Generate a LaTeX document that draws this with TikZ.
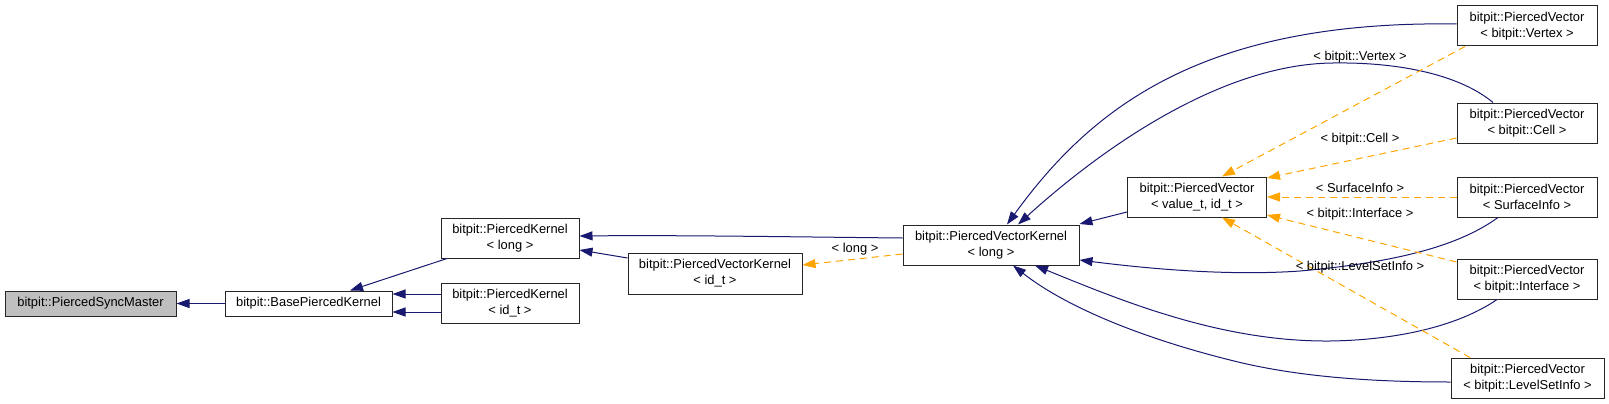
\documentclass[tikz,border=0pt]{standalone}
\usepackage{fontspec}
\setmainfont{Liberation Sans}
\usetikzlibrary{arrows.meta,calc}
\definecolor{edgeblue}{HTML}{191970}
\definecolor{edgeorange}{HTML}{FFA500}
\definecolor{mastergray}{HTML}{BFBFBF}
\tikzset{
  cls/.style={draw=black!85, line width=1pt, fill=white, inner sep=0pt, align=center,
    font=\fontsize{12.9}{16}\selectfont, text=black},
  inherit/.style={draw=edgeblue, line width=1pt, -{Triangle[length=13pt,width=9pt]}},
  tmpl/.style={draw=edgeorange, line width=1pt, dash pattern=on 7pt off 5pt,
    -{Triangle[length=13pt,width=9pt]}},
  lbl/.style={font=\fontsize{12.9}{16}\selectfont, inner sep=0pt, text=black},
}
\begin{document}
\begin{tikzpicture}[x=1pt,y=-1pt]
\path[use as bounding box] (0,0) rectangle (1609,404);
% nodes
\node[cls, fill=mastergray, minimum width=171pt, minimum height=25pt] (psm) at (90.5,303.5) {bitpit::PiercedSyncMaster};
\node[cls, minimum width=167pt, minimum height=25pt] (bpk) at (308.5,303.5) {bitpit::BasePiercedKernel};
\node[cls, minimum width=138pt, minimum height=40pt] (pkl) at (510,238) {bitpit::PiercedKernel\\< long >};
\node[cls, minimum width=138pt, minimum height=40pt] (pki) at (510,303) {bitpit::PiercedKernel\\< id\_t >};
\node[cls, minimum width=174pt, minimum height=41pt] (pvki) at (715,273.5) {bitpit::PiercedVectorKernel\\< id\_t >};
\node[cls, minimum width=176pt, minimum height=40pt] (pvkl) at (991,245) {bitpit::PiercedVectorKernel\\< long >};
\node[cls, minimum width=139pt, minimum height=40pt] (pv) at (1197,197) {bitpit::PiercedVector\\< value\_t, id\_t >};
\node[cls, minimum width=140pt, minimum height=40pt] (pvv) at (1527,26) {bitpit::PiercedVector\\< bitpit::Vertex >};
\node[cls, minimum width=140pt, minimum height=40pt] (pvc) at (1527,123) {bitpit::PiercedVector\\< bitpit::Cell >};
\node[cls, minimum width=140pt, minimum height=40pt] (pvs) at (1527,197) {bitpit::PiercedVector\\< SurfaceInfo >};
\node[cls, minimum width=140pt, minimum height=40pt] (pvin) at (1527,279) {bitpit::PiercedVector\\< bitpit::Interface >};
\node[cls, minimum width=153pt, minimum height=40pt] (pvls) at (1527.5,378) {bitpit::PiercedVector\\< bitpit::LevelSetInfo >};
% inheritance edges
\draw[inherit] (bpk.west) -- (psm.east);
\draw[inherit] ($(pkl.south)+(-63,0)$) -- ($(bpk.north)+(41.5,0)$);
\draw[inherit] ($(pki.west)+(0,-9)$) -- ($(bpk.east)+(0,-9.5)$);
\draw[inherit] ($(pki.west)+(0,9)$) -- ($(bpk.east)+(0,8.5)$);
\draw[inherit] ($(pvkl.west)+(0,-7)$) .. controls (800,237) and (680,235) .. ($(pkl.east)+(0,-2)$);
\draw[inherit] ($(pvki.west)+(0,-15.5)$) -- ($(pkl.east)+(0,12)$);
\draw[inherit] ($(pv.west)+(0,15)$) -- ($(pvkl.east)+(0,-21)$);
\draw[inherit] ($(pvv.west)+(0,-2)$) .. controls (1200,20) and (1090,110) .. ($(pvkl.north)+(16,0)$);
\draw[inherit] ($(pvc.north)+(-34,0)$) .. controls (1460,75) and (1400,62) .. (1333,63)
  .. controls (1220,64) and (1100,150) .. ($(pvkl.north)+(27,0)$);
\draw[inherit] ($(pvs.south)+(-29,0)$) .. controls (1460,245) and (1400,262) .. (1300,271)
  .. controls (1230,276) and (1150,269) .. ($(pvkl.east)+(0,15)$);
\draw[inherit] ($(pvin.south)+(-30,0)$) .. controls (1460,325) and (1400,340) .. (1330,341)
  .. controls (1220,342) and (1120,300) .. ($(pvkl.south)+(44,0)$);
\draw[inherit] ($(pvls.west)+(0,4)$) .. controls (1380,382) and (1300,378) .. (1230,360)
  .. controls (1150,340) and (1070,310) .. ($(pvkl.south)+(22,0)$);
% template edges
\draw[tmpl] ($(pvkl.west)+(0,9)$) -- ($(pvki.east)+(0,-8.5)$);
\node[lbl] (llong) at (855,249) {< long >};
\draw[tmpl] ($(pvv.south)+(-62,0)$) -- ($(pv.north)+(25,0)$);
\draw[tmpl] ($(pvc.west)+(0,15)$) -- ($(pv.east)+(0,-19)$);
\draw[tmpl] (pvs.west) -- (pv.east);
\draw[tmpl] ($(pvin.west)+(0,-17)$) -- ($(pv.east)+(0,18)$);
\draw[tmpl] ($(pvls.north)+(-57.5,0)$) -- ($(pv.south)+(25,0)$);
\node[lbl] (lvertex) at (1360,57) {< bitpit::Vertex >};
\node[lbl] (lcell) at (1360,139) {< bitpit::Cell >};
\node[lbl] (lsurf) at (1360,188) {< SurfaceInfo >};
\node[lbl] (linter) at (1360,214) {< bitpit::Interface >};
\node[lbl] (llevel) at (1360,267) {< bitpit::LevelSetInfo >};
\end{tikzpicture}
\end{document}
